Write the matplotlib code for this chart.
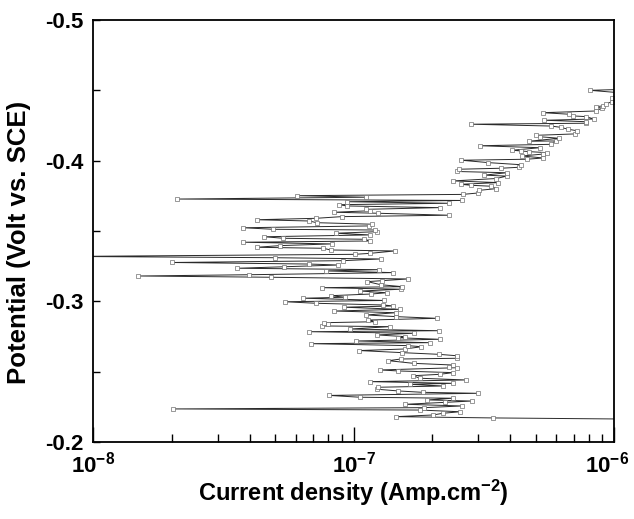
#!/usr/bin/env python3
"""
Potentiodynamic polarization curve: current density vs. potential (SCE).
"""

import numpy as np
import matplotlib
matplotlib.use('Agg')
import matplotlib.pyplot as plt
import matplotlib.transforms as mtransforms
from matplotlib.ticker import FixedLocator, LogLocator, NullFormatter, MultipleLocator

plt.rcParams.update({
    'font.family': ['Liberation Sans', 'DejaVu Sans'],
    'font.weight': 'bold',
    'mathtext.fontset': 'custom',
    'mathtext.rm': 'Liberation Sans:bold',
    'mathtext.bf': 'Liberation Sans:bold',
    'mathtext.it': 'Liberation Sans:bold',
})

# current density in units of 1e-7 A/cm2 (bottom -> top)
current_e7 = [
    13.0, 3.42, 1.45, 2.02, 2.20, 2.56, 1.80, 0.202, 1.87, 2.60,
    1.58, 2.24, 2.84, 1.92, 2.40, 1.06, 0.806, 3.01, 1.84, 1.48,
    1.23, 1.24, 2.21, 1.64, 2.40, 1.155, 2.70, 1.80, 1.69, 2.14,
    2.41, 1.48, 1.26, 2.49, 2.33, 2.41, 1.70, 1.36, 1.52, 2.49,
    2.49, 2.13, 1.54, 1.05, 1.57, 1.82, 1.62, 0.684, 1.96, 1.02,
    2.14, 1.48, 1.57, 1.23, 1.70, 0.675, 2.13, 0.968, 1.38, 0.754,
    0.799, 0.771, 1.21, 1.14, 2.09, 1.46, 1.12, 1.45, 0.842, 1.50,
    0.918, 1.42, 1.30, 0.717, 0.545, 1.31, 0.641, 0.926, 0.816, 1.17,
    1.34, 1.06, 1.52, 0.754, 1.54, 1.27, 1.13, 1.29, 1.62, 0.481,
    0.149, 0.396, 1.42, 0.781, 1.25, 0.357, 0.540, 0.873, 0.675, 0.200,
    0.912, 1.27, 0.499, 0.08, 1.01, 1.155, 1.44, 0.816, 0.764, 0.424,
    0.521, 0.823, 0.377, 1.16, 1.10, 0.537, 0.454, 1.155, 0.853, 1.23,
    1.21, 0.491, 0.377, 1.15, 1.18, 0.721, 0.675, 0.424, 0.715, 0.899,
    2.33, 1.24, 0.840, 1.16, 1.12, 2.14, 0.940, 0.880, 2.33, 0.940,
    2.60, 0.209, 1.12, 0.604, 2.62, 3.00, 3.04, 3.53, 3.38, 2.82,
    2.58, 3.59, 2.41, 3.53, 3.87, 3.18, 3.87, 2.49, 2.54, 3.68,
    4.32, 4.39, 3.29, 2.59, 4.62, 5.35, 4.43, 5.35, 5.51, 4.73,
    4.38, 4.07, 5.19, 3.05, 5.71, 5.98, 4.71, 6.16, 5.19, 5.01,
    7.06, 7.20, 6.67, 6.24, 5.73, 2.82, 7.80, 7.78, 5.40, 8.39,
    7.78, 6.97, 6.73, 5.32, 8.50, 8.96, 8.50, 9.09, 9.28, 9.79,
    9.79, 12.0, 8.08, 12.0,
]

# potential in V vs. SCE
potential = [
    -0.2162, -0.2171, -0.2180, -0.2192, -0.2204, -0.2215, -0.2227, -0.2235, -0.2244, -0.2256,
    -0.2268, -0.2282, -0.2291, -0.2299, -0.2311, -0.2318, -0.2331, -0.2346, -0.2353, -0.2363,
    -0.2375, -0.2389, -0.2398, -0.2410, -0.2417, -0.2429, -0.2441, -0.2453, -0.2471, -0.2481,
    -0.2493, -0.2505, -0.2512, -0.2528, -0.2535, -0.2547, -0.2559, -0.2578, -0.2590, -0.2595,
    -0.2613, -0.2623, -0.2635, -0.2650, -0.2661, -0.2677, -0.2685, -0.2699, -0.2706, -0.2718,
    -0.2730, -0.2741, -0.2749, -0.2761, -0.2773, -0.2784, -0.2791, -0.2803, -0.2820, -0.2825,
    -0.2837, -0.2848, -0.2855, -0.2867, -0.2879, -0.2891, -0.2903, -0.2919, -0.2931, -0.2943,
    -0.2958, -0.2967, -0.2974, -0.2986, -0.2997, -0.3006, -0.3022, -0.3029, -0.3040, -0.3052,
    -0.3061, -0.3073, -0.3086, -0.3097, -0.3104, -0.3118, -0.3140, -0.3147, -0.3159, -0.3171,
    -0.3180, -0.3189, -0.3204, -0.3216, -0.3225, -0.3235, -0.3246, -0.3258, -0.3265, -0.3276,
    -0.3289, -0.3301, -0.3310, -0.3319, -0.3334, -0.3341, -0.3358, -0.3365, -0.3377, -0.3384,
    -0.3396, -0.3408, -0.3420, -0.3429, -0.3441, -0.3448, -0.3459, -0.3472, -0.3484, -0.3495,
    -0.3507, -0.3512, -0.3523, -0.3536, -0.3548, -0.3559, -0.3571, -0.3580, -0.3590, -0.3602,
    -0.3612, -0.3626, -0.3633, -0.3644, -0.3654, -0.3666, -0.3678, -0.3687, -0.3697, -0.3708,
    -0.3717, -0.3727, -0.3740, -0.3751, -0.3760, -0.3770, -0.3789, -0.3801, -0.3818, -0.3825,
    -0.3832, -0.3844, -0.3856, -0.3873, -0.3890, -0.3897, -0.3914, -0.3923, -0.3939, -0.3946,
    -0.3953, -0.3971, -0.3986, -0.4003, -0.4010, -0.4019, -0.4033, -0.4047, -0.4057, -0.4064,
    -0.4069, -0.4074, -0.4092, -0.4106, -0.4116, -0.4140, -0.4138, -0.4159, -0.4170, -0.4180,
    -0.4190, -0.4213, -0.4223, -0.4237, -0.4246, -0.4259, -0.4266, -0.4277, -0.4287, -0.4296,
    -0.4313, -0.4318, -0.4330, -0.4341, -0.4353, -0.4372, -0.4384, -0.4389, -0.4401, -0.4419,
    -0.4443, -0.4474, -0.4500, -0.4509,
]

x_ticks = [1e-8, 1e-7, 1e-6]
x_ticklabels = [r'$10^{\mathbf{-8}}$', r'$10^{\mathbf{-7}}$', r'$10^{\mathbf{-6}}$']
y_ticks = [-0.5, -0.4, -0.3, -0.2]


def make_figure():
    fig = plt.figure(figsize=(6.34, 5.19), dpi=100)
    ax = fig.add_axes([0.1472, 0.1484, 0.8213, 0.8131])

    current = np.array(current_e7) * 1e-7
    ax.plot(current, potential, color='#2a2a2a', linewidth=0.7,
            marker='s', markersize=2.5, markerfacecolor='white',
            markeredgecolor='#707070', markeredgewidth=0.5)

    ax.set_xscale('log')
    ax.set_xlim(1e-8, 1e-6)
    ax.set_ylim(-0.2, -0.5)

    ax.xaxis.set_major_locator(FixedLocator(x_ticks))
    ax.set_xticklabels(x_ticklabels)
    ax.xaxis.set_minor_locator(LogLocator(base=10, subs=np.arange(2, 10)))
    ax.xaxis.set_minor_formatter(NullFormatter())

    ax.yaxis.set_major_locator(FixedLocator(y_ticks))
    ax.set_yticklabels([f'{v:.1f}' for v in y_ticks])
    ax.yaxis.set_minor_locator(MultipleLocator(0.05))

    ax.tick_params(axis='both', which='both', direction='in',
                   top=False, right=False, width=1.0, colors='black')
    ax.tick_params(axis='x', which='major', length=11, labelsize=16, pad=7)
    ax.tick_params(axis='x', which='minor', length=6)
    ax.tick_params(axis='y', which='both', length=5, labelsize=16, pad=7)

    # nudge the rightmost decade label so it stays inside the figure
    last = ax.get_xticklabels()[-1]
    last.set_transform(last.get_transform() +
                       mtransforms.ScaledTranslation(-5 / 72, 0, fig.dpi_scale_trans))

    for side in ax.spines.values():
        side.set_linewidth(1.3)

    ax.set_xlabel(r'Current density (Amp.cm$^{\mathbf{-2}}$)', fontsize=17,
                  fontweight='bold', va='top')
    ax.xaxis.set_label_coords(0.5, -0.084)
    ax.set_ylabel('Potential (Volt vs. SCE)', fontsize=18.5, fontweight='bold')
    ax.yaxis.set_label_coords(-0.12, 0.474)

    fig.savefig('out.png', dpi=100)
    plt.close(fig)


if __name__ == '__main__':
    make_figure()
